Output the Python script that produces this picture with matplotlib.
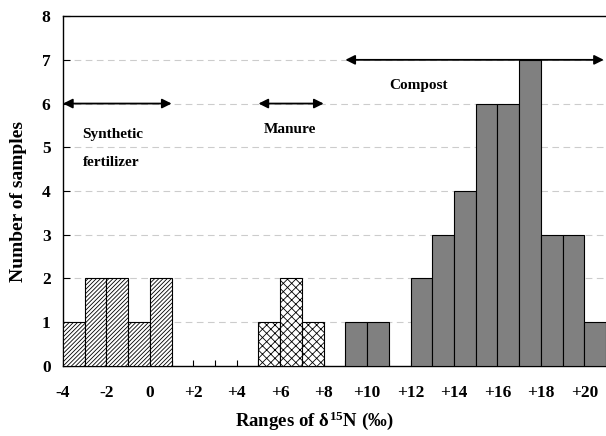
import numpy as np
import matplotlib.pyplot as plt

plt.rcParams['font.family'] = ['Liberation Serif', 'DejaVu Serif']
plt.rcParams['font.weight'] = 'bold'
plt.rcParams['hatch.linewidth'] = 0.6
plt.rcParams['mathtext.fontset'] = 'custom'
plt.rcParams['mathtext.rm'] = 'Liberation Serif:bold'
plt.rcParams['mathtext.bf'] = 'Liberation Serif:bold'
plt.rcParams['mathtext.it'] = 'Liberation Serif:bold'

# data: left edges of 1-unit bins and counts
synth_x = [-4, -3, -2, -1, 0]
synth_n = [1, 2, 2, 1, 2]
manure_x = [5, 6, 7]
manure_n = [1, 2, 1]
compost_x = [9, 10, 12, 13, 14, 15, 16, 17, 18, 19, 20]
compost_n = [1, 1, 2, 3, 4, 6, 6, 7, 3, 3, 1]

xticks = list(range(-4, 21))
xlabels = [('+%d' % t if t > 0 else str(t)) if t % 2 == 0 else '' for t in xticks]

fig = plt.figure(figsize=(6.06, 4.36), dpi=100)
ax = fig.add_axes([0.104, 0.161, 0.896, 0.802])

ax.bar(synth_x, synth_n, width=1, align='edge', color='white', edgecolor='black',
       hatch='////////', linewidth=0.8, zorder=3)
ax.bar(manure_x, manure_n, width=1, align='edge', color='white', edgecolor='black',
       hatch='xxxx', linewidth=0.8, zorder=3)
ax.bar(compost_x, compost_n, width=1, align='edge', color='#808080', edgecolor='black',
       linewidth=0.8, zorder=3)

ax.set_xlim(-4, 21)
ax.set_ylim(0, 8)
ax.set_yticks(range(0, 9))
ax.set_xticks(xticks)
ax.set_xticklabels(xlabels)
for y in range(1, 8):
    ax.axhline(y, color='#cccccc', linestyle=(0, (6, 4)), linewidth=0.8, zorder=1)

ax.tick_params(axis='x', direction='in', length=4, pad=14, labelsize=12.5)
ax.tick_params(axis='y', direction='in', length=5, pad=9, labelsize=12.5)
ax.spines['right'].set_visible(False)
for s in ax.spines.values():
    s.set_linewidth(1.0)

ax.set_xlabel(r'Ranges of $\delta^{15}$N (‰)', fontsize=13.5, fontweight='bold')
ax.set_ylabel('Number of samples', fontsize=14, fontweight='bold')
ax.xaxis.set_label_coords(0.462, -0.125)
ax.yaxis.set_label_coords(-0.066, 0.471)

arrow = dict(arrowstyle='<|-|>', color='black', lw=1.3, mutation_scale=14, shrinkA=0, shrinkB=0)
ax.annotate('', xy=(1, 6), xytext=(-4, 6), arrowprops=arrow, zorder=4)
ax.annotate('', xy=(8, 6), xytext=(5, 6), arrowprops=arrow, zorder=4)
ax.annotate('', xy=(20.9, 7), xytext=(9, 7), arrowprops=arrow, zorder=4)

ax.text(-3.1, 5.3, 'Synthetic', fontsize=11, fontweight='bold', va='center')
ax.text(-3.1, 4.65, 'fertilizer', fontsize=11, fontweight='bold', va='center')
ax.text(5.25, 5.4, 'Manure', fontsize=11, fontweight='bold', va='center')
ax.text(11.0, 6.42, 'Compost', fontsize=11, fontweight='bold', va='center')

fig.savefig('out.png', dpi=100)
